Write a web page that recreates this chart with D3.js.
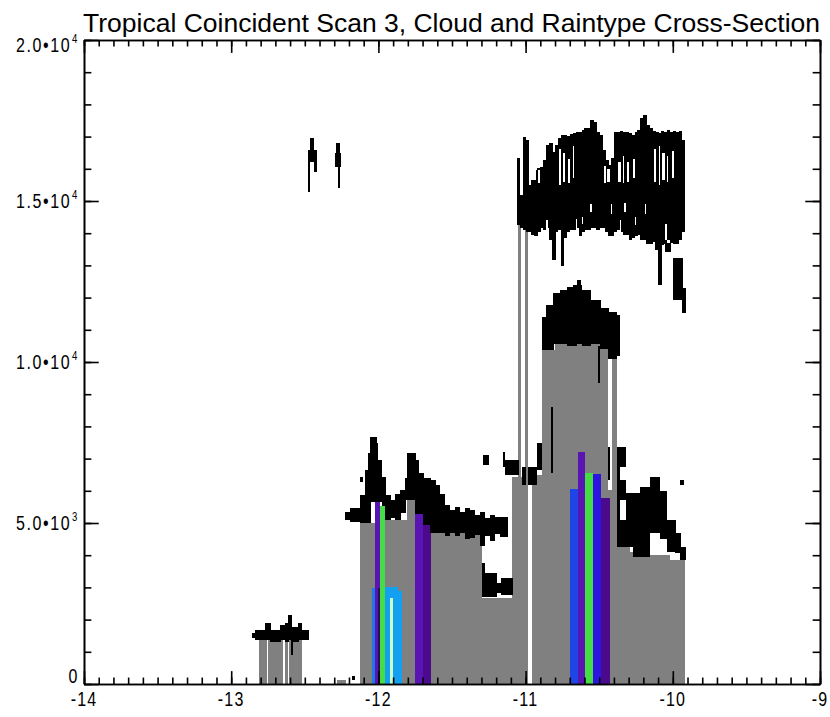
<!DOCTYPE html>
<html>
<head>
<meta charset="UTF-8">
<title>Tropical Coincident Scan 3</title>
<script src="https://cdn.jsdelivr.net/npm/d3@7"></script>
<style>
  body { margin: 0; background: #fff; }
  text { font-family: "Liberation Sans", Arial, Helvetica, sans-serif; fill: #000; }
</style>
</head>
<body>
<div id="chart"></div>
<script>
// gray rain columns: [x0, x1, top height (m)]
const grayRuns = [
  [-12.811, -12.757, 1370], [-12.748, -12.648, 1370], [-12.635, -12.614, 1370], [-12.605, -12.519, 1370],
  [-12.281, -12.220, 120],
  [-12.125, -11.955, 5000], [-11.955, -11.806, 5100], [-11.806, -11.751, 5700],
  [-11.751, -11.296, 4690], [-11.296, -11.092, 2670],
  [-11.092, -11.052, 6430], [-11.052, -11.031, 14260], [-11.031, -11.004, 6430], [-11.004, -10.984, 14260],
  [-10.957, -10.889, 6490], [-10.889, -10.800, 10374], [-10.800, -10.440, 10600],
  [-10.440, -10.413, 6030], [-10.413, -10.379, 10126],
  [-10.379, -10.291, 4250], [-10.291, -10.155, 4100], [-10.155, -10.019, 4000], [-10.019, -9.917, 3850]
];

// raintype bars: [x0, x1, top (m), type]
const rainBars = [
  [-12.043, -12.023, 2980, 0], [-12.023, -11.989, 5650, 1], [-12.000, -11.989, 2990, 5],
  [-11.989, -11.955, 5530, 2], [-11.955, -11.867, 3010, 3], [-11.867, -11.840, 2900, 3],
  [-11.921, -11.901, 2670, 4],
  [-11.751, -11.697, 5280, 1], [-11.697, -11.643, 4940, 6],
  [-10.698, -10.644, 6060, 7], [-10.644, -10.596, 7200, 1], [-10.596, -10.542, 6550, 2],
  [-10.542, -10.488, 6520, 8], [-10.488, -10.427, 5780, 6]
];
const rainColors = ["#1e78e6", "#5a14b4", "#46dc46", "#14a0f0", "#c8ffc8", "#281058", "#4b0a8c", "#1e46e6", "#2d14e1"];

// anvil cloud sampled every 0.02 from -11.06: top and base heights (m)
const anvilStart = -11.06, anvilStep = 0.02;
const anvilTop = [
  16340, 15190, 16990, 16900, 15500, 15650, 15970, 16030, 16060, 16280,
  16740, 16800, 16520, 16740, 16960, 17050, 17050, 17020, 17080, 17110,
  17150, 17150, 17210, 17270, 17270, 17520, 17460, 17150, 17050, 16590,
  16280, 16120, 16340, 17150, 17150, 17180, 17150, 17150, 17110, 17050,
  17150, 17210, 17580, 17670, 17360, 17270, 17180, 17150, 17110, 17180,
  17150, 17210, 17150, 17180, 17150, 17180, 16900
];
const anvilBase = [
  14260, 14160, 14100, 14040, 14040, 13950, 13910, 14040, 14160, 14100,
  14160, 13790, 13170, 14040, 14100, 12980, 13850, 14040, 14100, 14100,
  14160, 13910, 14040, 14100, 14100, 14160, 14160, 14100, 14160, 14160,
  14040, 13910, 13910, 14040, 14100, 14040, 13950, 13950, 13790, 13850,
  13910, 13950, 13790, 13790, 13670, 13670, 13730, 13480, 12390, 13640,
  13670, 13790, 13700, 13670, 13670, 13790, 14040
];

// other cloud mask pieces: [x0, x1, base (m), top (m)]
const cloudSegs = [
  // low cloud near -12.7
  [-12.861, -12.838, 1430, 1580], [-12.838, -12.770, 1370, 1680], [-12.770, -12.736, 1370, 1900],
  [-12.736, -12.668, 1300, 1680], [-12.668, -12.635, 1370, 1830], [-12.635, -12.612, 1300, 1900],
  [-12.612, -12.589, 1370, 2140], [-12.589, -12.544, 1300, 1770], [-12.544, -12.521, 1370, 1900],
  [-12.521, -12.476, 1370, 1680], [-12.592, -12.585, 900, 1370], [-12.179, -12.159, 120, 250],
  // two thin high spikes
  [-12.476, -12.465, 15290, 16220], [-12.465, -12.442, 16590, 16950], [-12.476, -12.419, 16220, 16590],
  [-12.435, -12.419, 15910, 16590], [-12.288, -12.265, 16480, 16800], [-12.295, -12.256, 16070, 16480],
  [-12.273, -12.261, 15400, 16070],
  // mid cloud over -12.2 .. -11.1
  [-12.227, -12.193, 5094, 5342], [-12.193, -12.125, 5032, 5466], [-12.125, -12.091, 5000, 5870],
  [-12.125, -12.105, 6270, 6430], [-12.091, -12.071, 5000, 6650], [-12.071, -12.057, 5000, 7180],
  [-12.057, -12.016, 5650, 7672], [-12.016, -12.003, 5650, 7500], [-12.003, -11.976, 5650, 6960],
  [-11.976, -11.955, 5530, 6430], [-11.955, -11.921, 5100, 5870], [-11.921, -11.887, 5150, 5715],
  [-11.887, -11.853, 5100, 5900], [-11.853, -11.819, 5300, 6020], [-11.819, -11.806, 5700, 6400],
  [-11.806, -11.751, 5720, 7175], [-11.751, -11.730, 5280, 6960], [-11.730, -11.697, 5280, 6550],
  [-11.697, -11.649, 4940, 6400], [-11.649, -11.615, 4690, 6340], [-11.615, -11.582, 4690, 6180],
  [-11.582, -11.548, 4690, 5900], [-11.548, -11.514, 4600, 5560], [-11.514, -11.480, 4690, 5400],
  [-11.480, -11.446, 4600, 5500], [-11.446, -11.412, 4690, 5340], [-11.412, -11.378, 4500, 5470],
  [-11.378, -11.344, 4530, 5400], [-11.344, -11.310, 4630, 5250], [-11.310, -11.276, 4300, 5340],
  [-11.276, -11.242, 4600, 5150], [-11.242, -11.208, 4450, 5250], [-11.208, -11.174, 4650, 5200],
  [-11.174, -11.120, 4550, 5190],
  [-11.296, -11.276, 2700, 3760], [-11.276, -11.201, 2700, 3450], [-11.201, -11.167, 2830, 3140],
  [-11.167, -11.092, 2760, 3290],
  [-11.289, -11.255, 6800, 7110], [-11.154, -11.140, 6740, 7200], [-11.140, -11.049, 6490, 6960],
  [-11.027, -11.004, 6180, 6740], [-10.984, -10.923, 6180, 6740], [-10.923, -10.889, 6650, 7490],
  // cloud above tall rain column
  [-10.889, -10.860, 10374, 11400], [-10.860, -10.812, 10374, 11770], [-10.812, -10.767, 10550, 12140],
  [-10.767, -10.721, 10550, 12240], [-10.721, -10.676, 10500, 12330], [-10.676, -10.653, 10500, 12400],
  [-10.653, -10.630, 10550, 12550], [-10.630, -10.619, 10550, 12400], [-10.619, -10.562, 10500, 12240],
  [-10.562, -10.494, 10550, 11930], [-10.494, -10.438, 10400, 11680], [-10.438, -10.381, 10100, 11550],
  [-10.381, -10.360, 10200, 11450],
  [-10.826, -10.816, 6560, 8600], [-10.508, -10.495, 9350, 10500], [-10.440, -10.427, 6340, 7360],
  // right side shallow cloud
  [-10.379, -10.318, 6740, 7360], [-10.379, -10.359, 4250, 7000], [-10.359, -10.318, 5700, 6340],
  [-10.359, -10.318, 4250, 5100], [-10.318, -10.271, 4250, 5930], [-10.271, -10.223, 3950, 5930],
  [-10.223, -10.155, 3950, 6120], [-10.155, -10.087, 4690, 6430], [-10.087, -10.040, 4500, 6000],
  [-10.040, -9.985, 4100, 5100], [-9.985, -9.951, 4070, 4700], [-9.951, -9.917, 3850, 4250],
  [-9.951, -9.924, 6180, 6340],
  // hanging pieces under the anvil
  [-10.053, -10.019, 13420, 13700], [-9.999, -9.931, 11930, 13230], [-9.938, -9.917, 11520, 12300]
];

// holes inside the anvil: [x0, x1, low (m), high (m)]
const cloudGaps = [
  [-10.940, -10.930, 15650, 16000], [-10.915, -10.905, 15550, 15950], [-10.770, -10.760, 15500, 16600],
  [-10.745, -10.735, 15600, 16500], [-10.715, -10.700, 15550, 16300], [-10.680, -10.670, 15700, 16700],
  [-10.470, -10.455, 15550, 16100], [-10.445, -10.430, 15600, 16000], [-10.370, -10.355, 15600, 16200],
  [-10.340, -10.330, 15550, 16400], [-10.310, -10.295, 15600, 16200], [-10.270, -10.260, 15700, 16300],
  [-10.130, -10.115, 15600, 16600], [-10.095, -10.085, 15500, 16700], [-10.070, -10.055, 15650, 16500],
  [-10.040, -10.030, 15600, 16400], [-10.005, -9.995, 15700, 16550],
  [-10.560, -10.550, 14650, 14900], [-10.420, -10.410, 14600, 14900], [-10.330, -10.320, 14650, 14950],
  [-10.190, -10.180, 14600, 14900], [-10.620, -10.610, 14300, 14500], [-10.260, -10.250, 14250, 14500],
  [-10.860, -10.850, 13900, 14400], [-10.660, -10.650, 14150, 14450], [-10.360, -10.350, 14000, 14400],
  [-10.050, -10.040, 13800, 14300]
];

const xMajor = [-14, -13, -12, -11, -10, -9];
const yMajor = [0, 5000, 10000, 15000, 20000];
const titleText = "Tropical Coincident Scan 3, Cloud and Raintype Cross-Section";

const width = 830, height = 717;
const margin = { top: 40, right: 10, bottom: 33, left: 84 };

const svg = d3.select("#chart").append("svg")
  .attr("width", width)
  .attr("height", height);

const x = d3.scaleLinear().domain([-14, -9]).range([margin.left, width - margin.right]);
const y = d3.scaleLinear().domain([0, 20000]).range([height - margin.bottom, margin.top]);

const anvil = anvilTop.map((t, i) => [anvilStart + i * anvilStep, anvilStart + (i + 1) * anvilStep, anvilBase[i], t]);

const marks = svg.append("g").attr("shape-rendering", "crispEdges");

marks.selectAll(".gray").data(grayRuns).join("rect")
  .attr("x", d => x(d[0]))
  .attr("width", d => x(d[1]) - x(d[0]))
  .attr("y", d => y(d[2]))
  .attr("height", d => y(0) - y(d[2]))
  .attr("fill", "#808080");

marks.selectAll(".rain").data(rainBars).join("rect")
  .attr("x", d => x(d[0]))
  .attr("width", d => x(d[1]) - x(d[0]))
  .attr("y", d => y(d[2]))
  .attr("height", d => y(0) - y(d[2]))
  .attr("fill", d => rainColors[d[3]]);

marks.selectAll(".cloud").data(cloudSegs.concat(anvil)).join("rect")
  .attr("x", d => x(d[0]))
  .attr("width", d => x(d[1]) - x(d[0]) + 0.5)
  .attr("y", d => y(d[3]))
  .attr("height", d => y(d[2]) - y(d[3]))
  .attr("fill", "#000");

marks.selectAll(".gap").data(cloudGaps).join("rect")
  .attr("x", d => x(d[0]))
  .attr("width", d => x(d[1]) - x(d[0]))
  .attr("y", d => y(d[3]))
  .attr("height", d => y(d[2]) - y(d[3]))
  .attr("fill", "#fff");

// axes, ticks pointing inward like IDL
const xMinor = d3.range(-140, -89).map(v => v / 10);
const yMinor = d3.range(0, 21).map(v => v * 1000);
const plotW = x.range()[1] - x.range()[0], plotH = y.range()[0] - y.range()[1];
const xt = 0.02 * plotH, yt = 0.02 * plotW;

function styleAxis(g) {
  g.select(".domain").attr("stroke", "#000").attr("stroke-width", 1.6);
  g.selectAll(".tick line").attr("stroke", "#000").attr("stroke-width", 1.6);
  g.selectAll(".tick text").remove();
}

svg.append("g").attr("transform", `translate(0,${y(0)})`)
  .call(d3.axisBottom(x).tickValues(xMinor).tickSize(-xt / 2).tickSizeOuter(0)).call(styleAxis);
svg.append("g").attr("transform", `translate(0,${y(20000)})`)
  .call(d3.axisTop(x).tickValues(xMinor).tickSize(-xt / 2).tickSizeOuter(0)).call(styleAxis);
svg.append("g").attr("transform", `translate(0,${y(0)})`)
  .call(d3.axisBottom(x).tickValues(xMajor).tickSize(-xt).tickSizeOuter(0)).call(styleAxis);
svg.append("g").attr("transform", `translate(0,${y(20000)})`)
  .call(d3.axisTop(x).tickValues(xMajor).tickSize(-xt).tickSizeOuter(0)).call(styleAxis);

svg.append("g").attr("transform", `translate(${x(-14)},0)`)
  .call(d3.axisLeft(y).tickValues(yMinor).tickSize(-yt / 2).tickSizeOuter(0)).call(styleAxis);
svg.append("g").attr("transform", `translate(${x(-9)},0)`)
  .call(d3.axisRight(y).tickValues(yMinor).tickSize(-yt / 2).tickSizeOuter(0)).call(styleAxis);
svg.append("g").attr("transform", `translate(${x(-14)},0)`)
  .call(d3.axisLeft(y).tickValues(yMajor).tickSize(-yt).tickSizeOuter(0)).call(styleAxis);
svg.append("g").attr("transform", `translate(${x(-9)},0)`)
  .call(d3.axisRight(y).tickValues(yMajor).tickSize(-yt).tickSizeOuter(0)).call(styleAxis);

// tick labels
const fs = 20, sx = 0.8;
svg.append("g").selectAll("text").data(xMajor).join("text")
  .attr("transform", d => `translate(${x(d)},${y(0) + 22}) scale(${sx},1)`)
  .attr("text-anchor", "middle")
  .attr("font-size", fs)
  .attr("letter-spacing", 1.5)
  .text(d => d);

const ylab = svg.append("g").selectAll("text").data(yMajor).join("text")
  .attr("transform", d => {
    const off = d === 0 ? -1 : (d === 20000 ? 12 : 7);
    return `translate(${x(-14) - 5},${y(d) + off}) scale(${sx},1)`;
  })
  .attr("text-anchor", "end")
  .attr("font-size", fs)
  .attr("letter-spacing", 2);

ylab.each(function (d) {
  const t = d3.select(this);
  if (d === 0) { t.text("0"); return; }
  const e = Math.floor(Math.log10(d));
  t.append("tspan").text((d / Math.pow(10, e)).toFixed(1) + "\u202210");
  t.append("tspan").attr("font-size", 12).attr("dy", -9).attr("dx", 1).text(e);
});

// title
svg.append("text")
  .attr("x", x(-14) - 1)
  .attr("y", 32)
  .attr("font-size", 26)
  .attr("textLength", plotW + 1)
  .attr("lengthAdjust", "spacingAndGlyphs")
  .text(titleText);
</script>
</body>
</html>
